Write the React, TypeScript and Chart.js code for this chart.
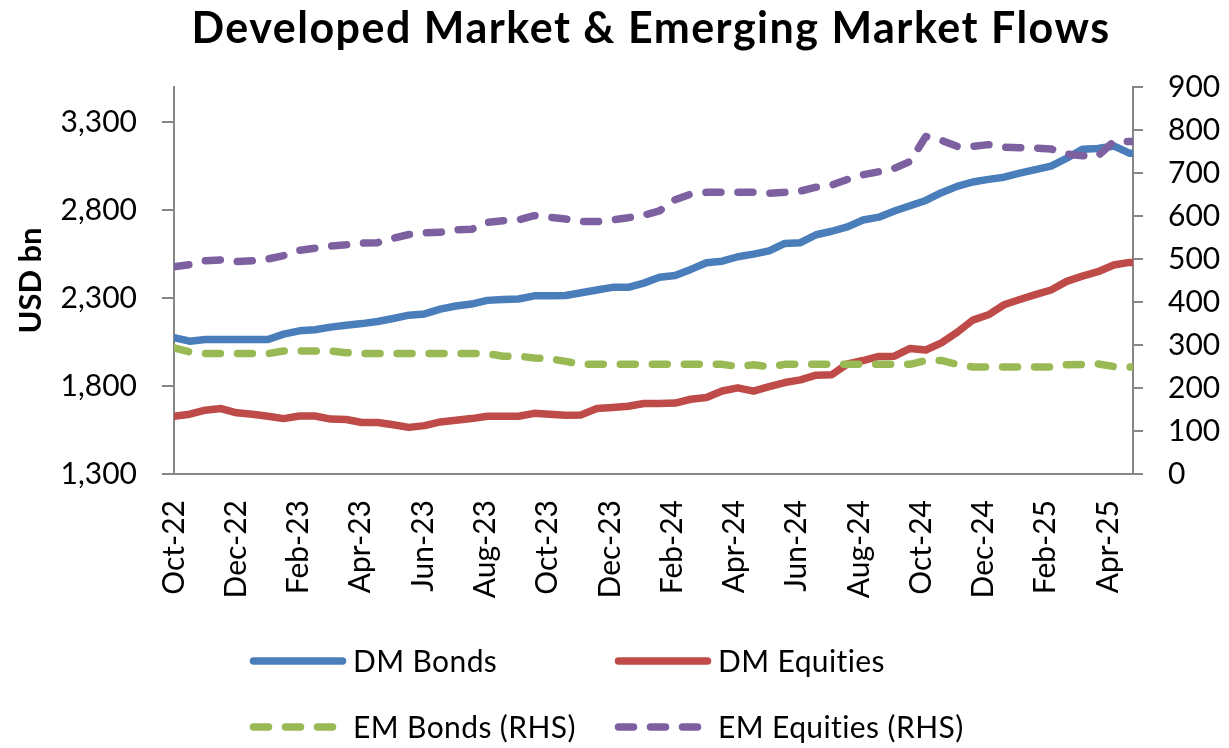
import { useEffect, useRef } from "react";
import { Chart, registerables } from "chart.js";

Chart.register(...registerables);

const TITLE = "Developed Market & Emerging Market Flows";
const TICK_LABELS = [
  "Oct-22", "Dec-22", "Feb-23", "Apr-23", "Jun-23", "Aug-23", "Oct-23", "Dec-23",
  "Feb-24", "Apr-24", "Jun-24", "Aug-24", "Oct-24", "Dec-24", "Feb-25", "Apr-25",
];
const LEFT_TICKS = [1300, 1800, 2300, 2800, 3300];

// months after 1 Oct 2022 covered by the axis; samples read roughly every half month
const X_MAX = 30.8;
const SAMPLE_STEP = 0.503;

const DM_BONDS = [
  2075, 2055, 2065, 2065, 2065, 2065, 2065, 2095, 2114, 2120, 2135, 2146, 2155, 2167, 2184, 2203,
  2210, 2237, 2255, 2266, 2287, 2292, 2295, 2313, 2313, 2315, 2330, 2346, 2361, 2361, 2385, 2418,
  2428, 2463, 2501, 2510, 2535, 2550, 2568, 2611, 2615, 2660, 2680, 2705, 2744, 2760, 2795, 2825,
  2855, 2899, 2935, 2960, 2975, 2987, 3010, 3030, 3050, 3095, 3146, 3150, 3165, 3124, 3124,
];
const DM_EQUITIES = [
  1628, 1640, 1663, 1672, 1648, 1640, 1628, 1615, 1630, 1630, 1612, 1610, 1593, 1593, 1580, 1565,
  1575, 1596, 1605, 1615, 1628, 1628, 1628, 1645, 1640, 1634, 1636, 1672, 1678, 1685, 1701, 1701,
  1703, 1725, 1735, 1772, 1790, 1771, 1797, 1820, 1835, 1862, 1864, 1926, 1945, 1968, 1970, 2014,
  2005, 2045, 2105, 2175, 2205, 2262, 2292, 2320, 2346, 2395, 2425, 2450, 2488, 2503, 2503,
];
const EM_BONDS = [
  293, 284, 280, 280, 280, 280, 280, 286, 286, 286, 286, 282, 280, 280, 280, 280,
  280, 280, 280, 280, 280, 274, 274, 270, 268, 262, 255, 255, 255, 255, 255, 255,
  255, 255, 255, 255, 250, 254, 249, 255, 255, 255, 255, 255, 255, 255, 255, 255,
  264, 264, 255, 249, 249, 249, 249, 249, 249, 254, 255, 256, 250, 249, 249,
];
const EM_EQUITIES = [
  482, 487, 496, 498, 494, 496, 500, 508, 520, 525, 530, 533, 537, 538, 548, 557,
  561, 562, 568, 569, 585, 589, 591, 601, 597, 593, 587, 587, 591, 596, 602, 612,
  638, 651, 655, 655, 655, 655, 653, 655, 658, 667, 672, 685, 696, 703, 711, 727,
  785, 776, 762, 762, 766, 760, 759, 758, 756, 744, 740, 740, 773, 773, 773,
];

const X_MONTHS = DM_BONDS.map((_, i) => Math.min(i * SAMPLE_STEP, X_MAX));

const COLORS = {
  dmBonds: "#4A7EBB",
  dmEquities: "#BE4B48",
  emBonds: "#98B954",
  emEquities: "#7D60A0",
};
const AXIS_GRAY = "#868686";
const FONT = "Lato";
const DASH = [15, 17];
const LINE_W = 7.5;

const toXY = (vals: number[]) => vals.map((y, i) => ({ x: X_MONTHS[i], y }));

const overlayPlugin = {
  id: "overlay",
  afterDraw(chart: any) {
    const ctx = chart.ctx as any;
    ctx.save();
    ctx.fillStyle = "#000";
    ctx.font = `bold 43px ${FONT}`;
    ctx.letterSpacing = "1.5px";
    ctx.textAlign = "center";
    ctx.textBaseline = "alphabetic";
    ctx.fillText(TITLE, 651, 43);
    ctx.letterSpacing = "0.4px";

    const cols = [250, 615];
    const rows = [661, 727];
    chart.data.datasets.forEach((ds: any, i: number) => {
      const x0 = cols[i % 2];
      const y = rows[Math.floor(i / 2)];
      ctx.save();
      ctx.strokeStyle = ds.borderColor;
      ctx.lineWidth = LINE_W;
      ctx.lineCap = "round";
      ctx.setLineDash(ds.borderDash || []);
      ctx.beginPath();
      ctx.moveTo(x0 + 3.5, y);
      ctx.lineTo(x0 + 92.5, y);
      ctx.stroke();
      ctx.restore();
      ctx.fillStyle = "#000";
      ctx.font = `30px ${FONT}`;
      ctx.textAlign = "left";
      ctx.textBaseline = "middle";
      ctx.fillText(ds.label, x0 + 103, y + 1);
    });
    ctx.restore();
  },
};

const lineDataset = (label: string, vals: number[], color: string, axis: string, dashed: boolean) => ({
  label,
  data: toXY(vals),
  borderColor: color,
  backgroundColor: color,
  borderWidth: LINE_W,
  borderDash: dashed ? DASH : [],
  pointRadius: 0,
  yAxisID: axis,
  order: dashed ? 1 : 2,
  borderCapStyle: "round",
  borderJoinStyle: "round",
});

export default function App() {
  const canvasRef = useRef<HTMLCanvasElement | null>(null);

  useEffect(() => {
    if (!canvasRef.current) return;
    const tickFont = { family: FONT, size: 30 };
    const chart = new Chart(canvasRef.current, {
      type: "line",
      data: {
        datasets: [
          lineDataset("DM Bonds", DM_BONDS, COLORS.dmBonds, "y", false),
          lineDataset("DM Equities", DM_EQUITIES, COLORS.dmEquities, "y", false),
          lineDataset("EM Bonds (RHS)", EM_BONDS, COLORS.emBonds, "y1", true),
          lineDataset("EM Equities (RHS)", EM_EQUITIES, COLORS.emEquities, "y1", true),
        ],
      },
      options: {
        responsive: false,
        animation: false,
        devicePixelRatio: 1,
        layout: { padding: { top: 87, left: 0, right: 0, bottom: 0 } },
        plugins: {
          legend: { display: false },
          title: { display: false },
          tooltip: { enabled: false },
        },
        scales: {
          x: {
            type: "linear",
            min: 0,
            max: X_MAX,
            grid: { display: false, drawTicks: false },
            border: { display: true, color: AXIS_GRAY, width: 2 },
            afterBuildTicks: (s: any) => {
              s.ticks = TICK_LABELS.map((_, i) => ({ value: i * 2 }));
            },
            ticks: {
              autoSkip: false,
              maxRotation: 90,
              minRotation: 90,
              padding: 26,
              color: "#000",
              font: tickFont,
              callback: (v: any) => TICK_LABELS[Math.round(Number(v) / 2)] ?? "",
            },
            afterFit: (s: any) => {
              s.height = 274;
            },
          },
          y: {
            type: "linear",
            position: "left",
            min: 1300,
            max: 3500,
            afterBuildTicks: (s: any) => {
              s.ticks = LEFT_TICKS.map((v) => ({ value: v }));
            },
            ticks: {
              padding: 25,
              color: "#000",
              font: tickFont,
              callback: (v: any) => Number(v).toLocaleString("en-US"),
            },
            grid: {
              drawOnChartArea: false,
              drawTicks: true,
              tickLength: 12,
              color: AXIS_GRAY,
              lineWidth: 2,
            },
            border: { display: true, color: AXIS_GRAY, width: 2 },
            title: {
              display: true,
              text: "USD bn",
              color: "#000",
              font: { family: FONT, size: 31, weight: "bold" },
              padding: { top: 12, bottom: 0 },
            },
            afterFit: (s: any) => {
              s.width = 174;
            },
          },
          y1: {
            type: "linear",
            position: "right",
            min: 0,
            max: 900,
            ticks: {
              stepSize: 100,
              padding: 25,
              color: "#000",
              font: tickFont,
            },
            grid: {
              drawOnChartArea: false,
              drawTicks: true,
              tickLength: 10,
              color: AXIS_GRAY,
              lineWidth: 2,
            },
            border: { display: true, color: AXIS_GRAY, width: 2 },
            afterFit: (s: any) => {
              s.width = 96;
            },
          },
        },
      } as any,
      plugins: [overlayPlugin],
    });
    return () => chart.destroy();
  }, []);

  return (
    <div style={{ position: "absolute", left: 0, top: 0, width: 1229, height: 748, background: "#fff" }}>
      <canvas ref={canvasRef} width={1229} height={748} style={{ display: "block" }} />
    </div>
  );
}
